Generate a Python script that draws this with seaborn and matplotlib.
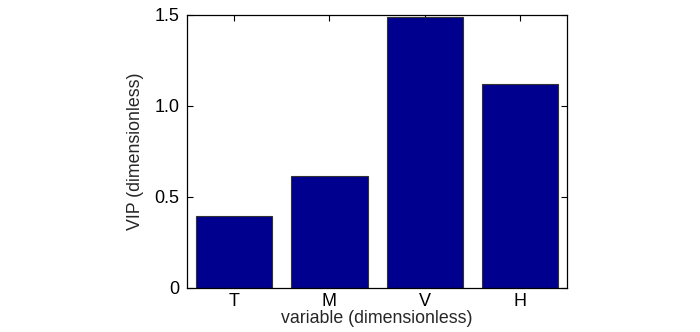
import matplotlib
matplotlib.use("Agg")
import matplotlib.pyplot as plt
import seaborn as sns
import pandas as pd

# data
variables = ["T", "M", "V", "H"]
vip = [0.396, 0.614, 1.49, 1.118]
yticks = [0, 0.5, 1.0, 1.5]
ytick_labels = ["0", "0.5", "1.0", "1.5"]

sns.set_style("ticks")
plt.rcParams['font.family'] = ['Liberation Sans', 'DejaVu Sans']

df = pd.DataFrame({"variable": variables, "vip": vip})

fig = plt.figure(figsize=(7, 3.32), dpi=100)
ax = fig.add_axes([0.2667, 0.1334, 0.8105 - 0.2667, 0.9557 - 0.1334])

sns.barplot(data=df, x="variable", y="vip", color="#00008F", saturation=1,
            width=0.8, edgecolor="#333333", linewidth=0.8, ax=ax)

ax.set_xlim(-0.5, 3.5)
ax.set_ylim(0, 1.5)
ax.set_yticks(yticks)
ax.set_yticklabels(ytick_labels)
ax.tick_params(direction="in", length=4, width=0.8, labelsize=13,
               top=True, right=True, colors="black")
ax.tick_params(axis="x", pad=4)
ax.tick_params(axis="y", pad=5)
for s in ax.spines.values():
    s.set_visible(True)
    s.set_color("black")
    s.set_linewidth(0.9)

ax.set_xlabel("variable (dimensionless)", fontsize=12.8, labelpad=0)
ax.set_ylabel("VIP (dimensionless)", fontsize=12.8, labelpad=8)

fig.savefig("out.png", dpi=100)
